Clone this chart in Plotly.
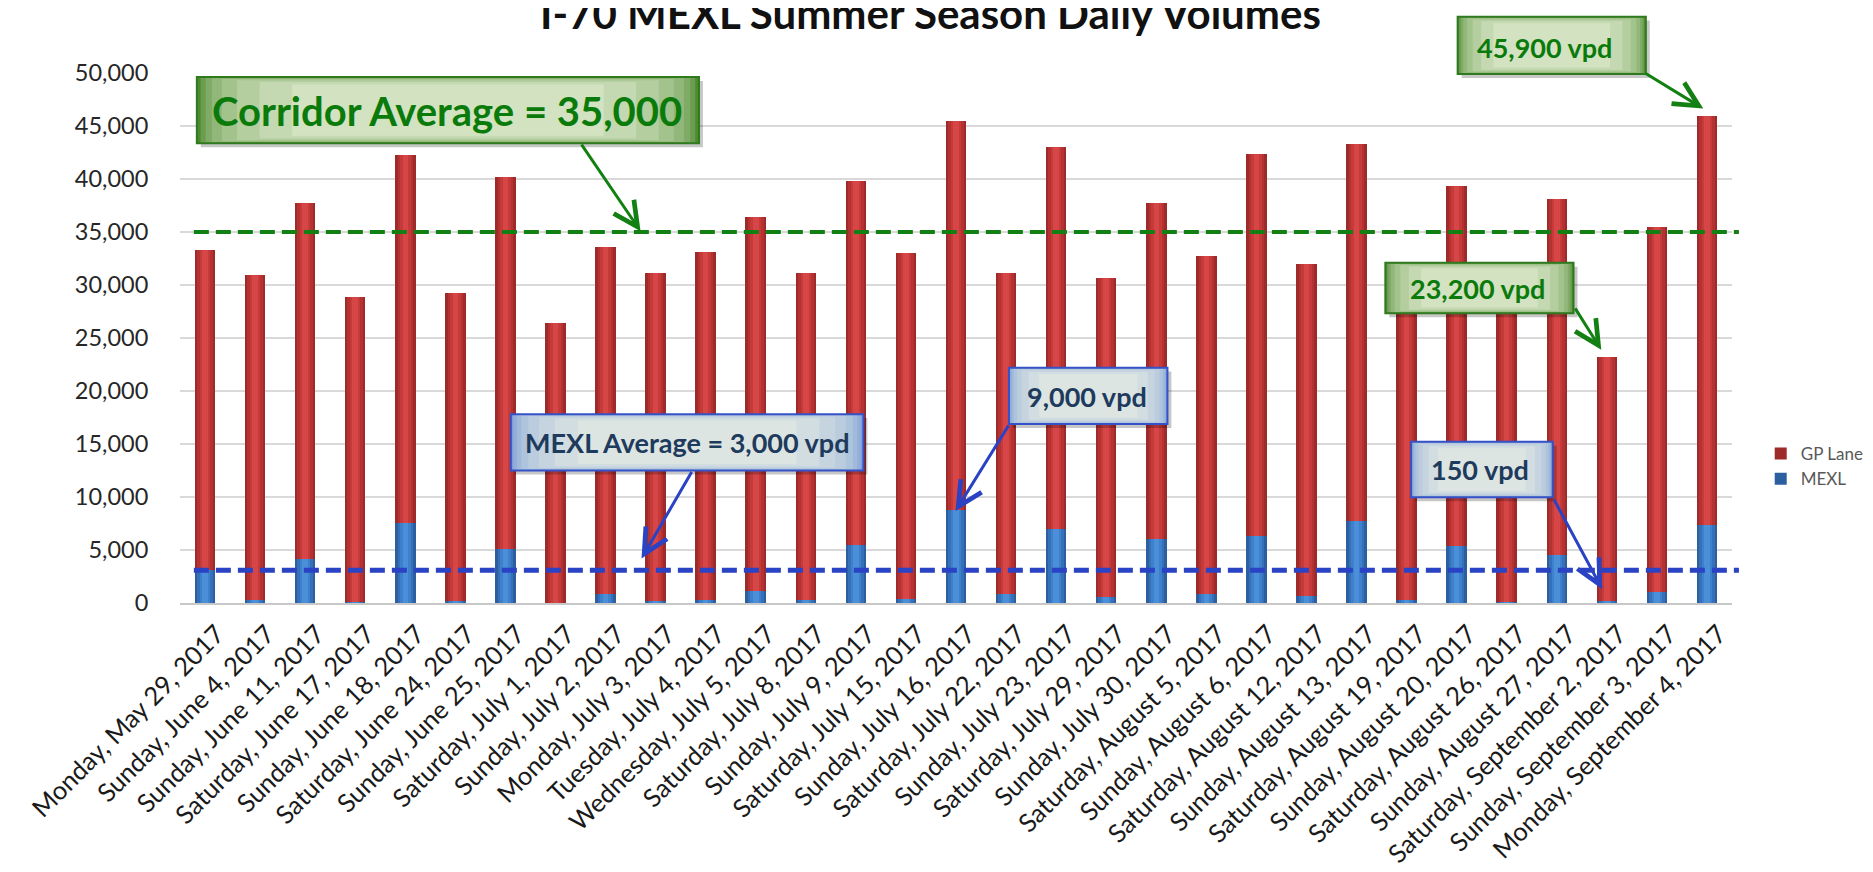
import plotly.graph_objects as go

# ---------------- data ----------------
categories = [
    "Monday, May 29, 2017", "Sunday, June 4, 2017", "Sunday, June 11, 2017",
    "Saturday, June 17, 2017", "Sunday, June 18, 2017", "Saturday, June 24, 2017",
    "Sunday, June 25, 2017", "Saturday, July 1, 2017", "Sunday, July 2, 2017",
    "Monday, July 3, 2017", "Tuesday, July 4, 2017", "Wednesday, July 5, 2017",
    "Saturday, July 8, 2017", "Sunday, July 9, 2017", "Saturday, July 15, 2017",
    "Sunday, July 16, 2017", "Saturday, July 22, 2017", "Sunday, July 23, 2017",
    "Saturday, July 29, 2017", "Sunday, July 30, 2017", "Saturday, August 5, 2017",
    "Sunday, August 6, 2017", "Saturday, August 12, 2017", "Sunday, August 13, 2017",
    "Saturday, August 19, 2017", "Sunday, August 20, 2017", "Saturday, August 26, 2017",
    "Sunday, August 27, 2017", "Saturday, September 2, 2017", "Sunday, September 3, 2017",
    "Monday, September 4, 2017",
]
mexl = [3120, 310, 4110, 50, 7530, 150, 5100, 30, 840, 150, 310, 1150, 310, 5480, 370,
        8800, 840, 7000, 530, 6040, 840, 6350, 690, 7720, 250, 5400, 130, 4570, 150, 1000, 7340]
gp_lane = [30180, 30590, 33590, 28850, 34770, 29050, 35100, 26370, 32760, 30950, 32790,
           35250, 30790, 34320, 32630, 36700, 30260, 36000, 30170, 31660, 31860, 36050,
           31310, 35580, 29250, 33900, 28870, 33530, 23050, 34500, 38560]
corridor_avg = 35000
mexl_avg_line = 3100
y_ticks = [0, 5000, 10000, 15000, 20000, 25000, 30000, 35000, 40000, 45000, 50000]

# ---------------- layout geometry ----------------
W, H = 1873, 872
L, R, T, B = 172, 134, 65, 271
PW, PH = W - L - R, H - T - B
FONT = "Lato"


def fx(p):
    return (p - L) / PW


def fy(p):
    return (H - B - p) / PH


def mix(c1, c2, t):
    a = [int(c1[i:i + 2], 16) for i in (1, 3, 5)]
    b = [int(c2[i:i + 2], 16) for i in (1, 3, 5)]
    return "#%02x%02x%02x" % tuple(round(a[k] + (b[k] - a[k]) * t) for k in range(3))


fig = go.Figure()

# base bars
fig.add_trace(go.Bar(x=categories, y=mexl, name="MEXL", legendrank=2,
                     marker=dict(color="#2c5f9f", line=dict(width=0)), width=0.41))
fig.add_trace(go.Bar(x=categories, y=gp_lane, name="GP Lane", legendrank=1,
                     marker=dict(color="#9e2a2a", line=dict(width=0)), width=0.41))
# cylinder-like highlights (same data, narrower, each on its own overlay axis)
layers = [("x2", 0.31, "#3570b8", "#b53232"),
          ("x3", 0.21, "#3d80cb", "#c73a3a"),
          ("x4", 0.11, "#4a8fd8", "#d64646")]
for ax, w, cm, cg in layers:
    fig.add_trace(go.Bar(x=categories, y=mexl, xaxis=ax, width=w, showlegend=False,
                         hoverinfo="skip", marker=dict(color=cm, line=dict(width=0))))
    fig.add_trace(go.Bar(x=categories, y=gp_lane, xaxis=ax, width=w, showlegend=False,
                         hoverinfo="skip", marker=dict(color=cg, line=dict(width=0))))

shapes = []
# average lines
shapes.append(dict(type="line", xref="paper", yref="y", x0=fx(186), x1=fx(1746),
                   y0=corridor_avg, y1=corridor_avg,
                   line=dict(color="#128012", width=4, dash="15px,7px")))
shapes.append(dict(type="line", xref="paper", yref="y", x0=fx(186), x1=fx(1746),
                   y0=mexl_avg_line, y1=mexl_avg_line,
                   line=dict(color="#2a42c4", width=5, dash="15px,7px")))


def grad_box(x0, y0, x1, y1, edge, center, border, bw=2):
    shapes.append(dict(type="rect", xref="paper", yref="paper",
                       x0=fx(x0 + 4), x1=fx(x1 + 4), y0=fy(y0 + 4), y1=fy(y1 + 4),
                       fillcolor="rgba(0,0,0,0.22)", line=dict(width=0), layer="above"))
    steps = [0.0, 0.015, 0.035, 0.06, 0.1, 0.16, 0.25, 0.38]
    cx, cy = (x0 + x1) / 2, (y0 + y1) / 2
    hw, hh = (x1 - x0) / 2, (y1 - y0) / 2
    for k, s in enumerate(steps):
        t = k / (len(steps) - 1)
        col = mix(edge, center, t ** 0.8)
        shapes.append(dict(type="rect", xref="paper", yref="paper",
                           x0=fx(cx - hw * (1 - s)), x1=fx(cx + hw * (1 - s)),
                           y0=fy(cy - hh * (1 - s * 0.6)), y1=fy(cy + hh * (1 - s * 0.6)),
                           fillcolor=col, line=dict(width=0), layer="above"))
    shapes.append(dict(type="rect", xref="paper", yref="paper",
                       x0=fx(x0), x1=fx(x1), y0=fy(y0), y1=fy(y1),
                       fillcolor="rgba(0,0,0,0)", line=dict(color=border, width=bw),
                       layer="above"))


GREEN_EDGE, GREEN_CENTER, GREEN_BORDER = "#4f8a30", "#d3e3c2", "#2f7a1f"
BLUE_EDGE, BLUE_CENTER, BLUE_BORDER = "#7f9fd6", "#dce5e2", "#3552c8"

grad_box(189, 69, 696, 136, GREEN_EDGE, GREEN_CENTER, GREEN_BORDER)
grad_box(1462, 8, 1652, 66, GREEN_EDGE, GREEN_CENTER, GREEN_BORDER)
grad_box(1389, 257, 1579, 308, GREEN_EDGE, GREEN_CENTER, GREEN_BORDER)
grad_box(506, 410, 862, 467, BLUE_EDGE, BLUE_CENTER, BLUE_BORDER)
grad_box(1009, 363, 1169, 420, BLUE_EDGE, BLUE_CENTER, BLUE_BORDER)
grad_box(1415, 438, 1558, 494, BLUE_EDGE, BLUE_CENTER, BLUE_BORDER)

annotations = []


def label(text, cx, cy, size, color):
    annotations.append(dict(text="<b>%s</b>" % text, x=fx(cx), y=fy(cy), xref="paper",
                            yref="paper", showarrow=False, xanchor="center",
                            yanchor="middle", font=dict(family=FONT, size=size, color=color)))


def arrow(hx, hy, tx, ty, color, width=3):
    annotations.append(dict(text="", x=fx(hx), y=fy(hy), xref="paper", yref="paper",
                            ax=tx - hx, ay=ty - hy, showarrow=True, arrowhead=5,
                            arrowsize=1.6, arrowwidth=width, arrowcolor=color))


label("Corridor Average = 35,000", 442, 103, 40, "#0a7a0a")
label("45,900 vpd", 1550, 39, 27, "#0a7a0a")
label("23,200 vpd", 1482, 283, 27, "#0a7a0a")
label("MEXL Average = 3,000 vpd", 684, 439, 27, "#1e3a5c")
label("9,000 vpd", 1088, 392, 27, "#1e3a5c")
label("150 vpd", 1485, 466, 27, "#1e3a5c")

arrow(637, 225, 577, 137, "#128012")
arrow(1710, 101, 1651, 65, "#128012")
arrow(1607, 345, 1580, 302, "#128012")
arrow(638, 556, 689, 468, "#2a42c4")
arrow(955, 508, 1009, 421, "#2a42c4")
arrow(1608, 587, 1559, 496, "#2a42c4")

# title (partly clipped at the top edge, as in the original picture)
annotations.append(dict(text="<b>I-70 MEXL Summer Season Daily Volumes</b>", x=fx(930),
                        y=fy(4), xref="paper", yref="paper", showarrow=False,
                        xanchor="center", yanchor="middle",
                        font=dict(family=FONT, size=42, color="#111111")))

overlay = dict(type="category", overlaying="x", matches="x", visible=False,
               range=[-0.5, len(categories) - 0.5])

fig.update_layout(
    width=W, height=H, autosize=False,
    margin=dict(l=L, r=R, t=T, b=B, pad=0),
    paper_bgcolor="white", plot_bgcolor="white",
    barmode="stack",
    font=dict(family=FONT, size=23, color="#262626"),
    xaxis=dict(type="category", tickangle=-45, showgrid=False, zeroline=False,
               showline=True, linecolor="#c8c8c8", linewidth=2, ticks="",
               ticklabelshift=12, ticklabelstandoff=4,
               tickfont=dict(family=FONT, size=25.5, color="#1a1a1a"),
               range=[-0.5, len(categories) - 0.5]),
    xaxis2=overlay, xaxis3=overlay, xaxis4=overlay,
    yaxis=dict(range=[0, 50000], tickvals=y_ticks, tickformat=",d", showgrid=True,
               gridcolor="#d9d9d9", gridwidth=2, zeroline=False, showline=False,
               ticks="outside", ticklen=26, tickcolor="rgba(0,0,0,0)",
               tickfont=dict(family=FONT, size=23.5, color="#262626")),
    legend=dict(x=fx(1768), y=fy(463), xanchor="left", yanchor="middle",
                traceorder="normal", tracegroupgap=16, itemwidth=30,
                font=dict(family=FONT, size=17, color="#595959"),
                bgcolor="rgba(0,0,0,0)"),
    shapes=shapes, annotations=annotations,
    bargap=0.59,
)

fig.write_html("out.html")
